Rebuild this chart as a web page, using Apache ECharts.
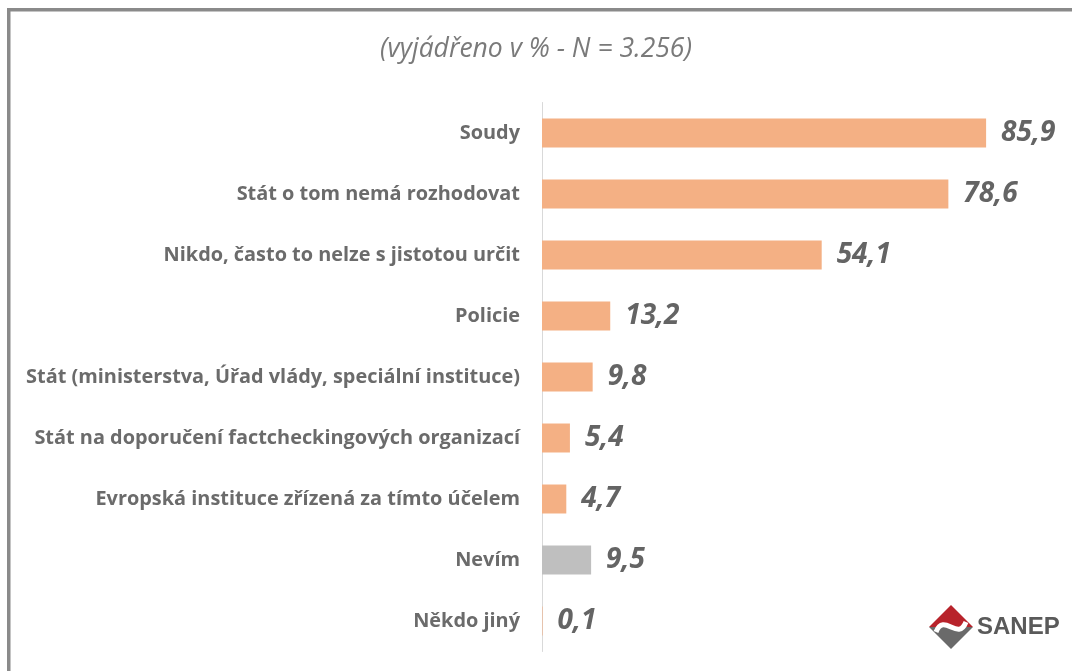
<!DOCTYPE html>
<html><head><meta charset="utf-8">
<script src="https://cdn.jsdelivr.net/npm/echarts@6/dist/echarts.min.js"></script>
<style>html,body{margin:0;padding:0;background:#fff}#c{width:1072px;height:671px}</style>
</head><body><div id="c"></div>
<script>
const categories = ["Soudy","Stát o tom nemá rozhodovat","Nikdo, často to nelze s jistotou určit","Policie","Stát (ministerstva, Úřad vlády, speciální instituce)","Stát na doporučení factcheckingových organizací","Evropská instituce zřízená za tímto účelem","Nevím","Někdo jiný"];
const values = [85.9,78.6,54.1,13.2,9.8,5.4,4.7,9.5,0.1];
const titleText = "(vyjádřeno v % - N = 3.256)";
const grayCategory = "Nevím";

const chart = echarts.init(document.getElementById('c'), null, {renderer:'canvas'});
const seriesData = values.map((v,i)=>({value:v, itemStyle:{color: categories[i]===grayCategory ? '#BFBFBF' : '#F4B084'}}));
chart.setOption({
  animation:false,
  backgroundColor:'#fff',
  title:{text:titleText,left:'center',top:31,textStyle:{fontFamily:'Open Sans',fontStyle:'italic',fontWeight:'normal',fontSize:26.5,color:'#7a7a7a'}},
  grid:{left:542,right:13,top:102.5,bottom:19.5,containLabel:false},
  xAxis:{type:'value',min:0,max:100,show:false},
  yAxis:{type:'category',inverse:true,data:categories,
    axisLine:{show:true,lineStyle:{color:'#d9d9d9',width:1}},
    axisTick:{show:false},
    axisLabel:{margin:22,fontFamily:'Open Sans',fontWeight:'bold',fontSize:19.9,color:'#6b6b6b'}},
  series:[{type:'bar',data:seriesData,barWidth:29,
    label:{show:true,position:'right',distance:15,fontFamily:'Open Sans',fontStyle:'italic',fontWeight:'bold',fontSize:28,color:'#646464',
      formatter:p=>String(p.value).replace('.',',')}}],
  graphic:[
    {type:'line',shape:{x1:7,y1:9.75,x2:1072,y2:9.75},style:{stroke:'#8a8a8a',lineWidth:3.5},silent:true},
    {type:'line',shape:{x1:8.75,y1:8,x2:8.75,y2:671},style:{stroke:'#8a8a8a',lineWidth:3.5},silent:true},
    {type:'polygon',shape:{points:[[951,605],[973,627],[929,627]]},style:{fill:'#b8232b'}},
    {type:'polygon',shape:{points:[[929,627],[973,627],[951,649]]},style:{fill:'#6a6a6a'}},
    {type:'bezierCurve',shape:{x1:936,y1:632,x2:966,y2:622,cpx1:944,cpy1:612,cpx2:958,cpy2:642},style:{stroke:'#fff',lineWidth:5,fill:'none'}},
    {type:'text',style:{x:977,y:627,text:'SANEP',verticalAlign:'middle',font:'bold 24px "Liberation Sans", Arial',fill:'#5a5a5a'}}
  ]
});
</script></body></html>
